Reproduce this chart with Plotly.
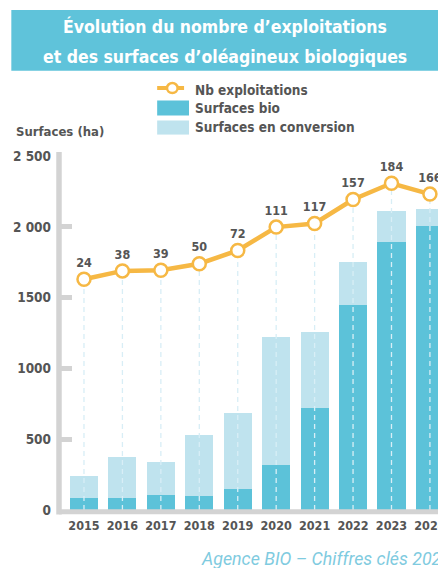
import plotly.graph_objects as go

years = [2015, 2016, 2017, 2018, 2019, 2020, 2021, 2022, 2023, 2024]
surfaces_bio = [88, 88, 106, 100, 150, 320, 720, 1445, 1890, 2008]
surfaces_conversion = [152, 287, 234, 430, 536, 903, 538, 308, 224, 120]
nb_exploitations = [24, 38, 39, 50, 72, 111, 117, 157, 184, 166]
y_tickvals = [0, 500, 1000, 1500, 2000, 2500]
y_ticktext = ["0", "500", "1000", "1500", "2 000", "2 500"]

FONT = "DejaVu Sans Condensed, Liberation Sans Narrow, Roboto, sans-serif"
GREY = "#555555"
AXIS = "#d3d3d3"
DARK = "#5cc2d9"
LIGHT = "#bfe3ee"
ORANGE = "#f6b844"

Y2_MIN, Y2_MAX = -360.5, 229.5

fig = go.Figure()
fig.add_trace(go.Bar(x=years, y=surfaces_bio, marker=dict(color=DARK, line=dict(width=0)),
                     width=0.73, showlegend=False, hoverinfo="skip"))
fig.add_trace(go.Bar(x=years, y=surfaces_conversion, marker=dict(color=LIGHT, line=dict(width=0)),
                     width=0.73, showlegend=False, hoverinfo="skip"))

# dashed guides from the bottom up to each point
gx, gy = [], []
for yr, v in zip(years, nb_exploitations):
    gx += [yr, yr, None]
    gy += [Y2_MIN, v, None]
fig.add_trace(go.Scatter(x=gx, y=gy, yaxis="y2", mode="lines",
                         line=dict(color="#d8eef6", width=1.3, dash="5px,4px"),
                         showlegend=False, hoverinfo="skip"))

fig.add_trace(go.Scatter(x=years, y=nb_exploitations, yaxis="y2", mode="lines+markers+text",
                         line=dict(color=ORANGE, width=4.5),
                         marker=dict(size=13, color="white", line=dict(color=ORANGE, width=2.5)),
                         text=["<b>%d</b>" % v for v in nb_exploitations], textposition="top center",
                         textfont=dict(family=FONT, size=12.5, color=GREY),
                         showlegend=False, hoverinfo="skip"))

shapes = [
    # title band
    dict(type="rect", xref="paper", yref="paper", x0=-0.1258, x1=1.0, y0=1.241, y1=1.4124,
         fillcolor="#5fc3da", line=dict(width=0), layer="below"),
    # axis lines
    dict(type="line", xref="paper", yref="paper", x0=0, x1=0, y0=-0.0125, y1=1.011,
         line=dict(color=AXIS, width=5.5)),
    dict(type="line", xref="paper", yref="paper", x0=0, x1=1.0, y0=-0.005, y1=-0.005,
         line=dict(color=AXIS, width=5)),
    # legend symbols
    dict(type="line", xref="paper", yref="paper", x0=0.259, x1=0.330, y0=1.1921, y1=1.1921,
         line=dict(color=ORANGE, width=4)),
    dict(type="circle", xref="paper", yref="paper", x0=0.285, x1=0.313, y0=1.1779, y1=1.2062,
         fillcolor="white", line=dict(color=ORANGE, width=2.5)),
    dict(type="rect", xref="paper", yref="paper", x0=0.259, x1=0.343, y0=1.1144, y1=1.1568,
         fillcolor=DARK, line=dict(width=0)),
    dict(type="rect", xref="paper", yref="paper", x0=0.259, x1=0.343, y0=1.0605, y1=1.1003,
         fillcolor=LIGHT, line=dict(width=0)),
]

annotations = [
    dict(text="<b>Évolution du nombre d’exploitations</b>", xref="paper", yref="paper",
         x=0.437, y=1.3672, xanchor="center", yanchor="middle", showarrow=False,
         font=dict(family=FONT, size=17.5, color="white")),
    dict(text="<b>et des surfaces d’oléagineux biologiques</b>", xref="paper", yref="paper",
         x=0.437, y=1.2797, xanchor="center", yanchor="middle", showarrow=False,
         font=dict(family=FONT, size=17.5, color="white")),
    dict(text="<b>Nb exploitations</b>", xref="paper", yref="paper", x=0.354, y=1.1864,
         xanchor="left", yanchor="middle", showarrow=False, font=dict(family=FONT, size=13.5, color=GREY)),
    dict(text="<b>Surfaces bio</b>", xref="paper", yref="paper", x=0.354, y=1.1342,
         xanchor="left", yanchor="middle", showarrow=False, font=dict(family=FONT, size=13.5, color=GREY)),
    dict(text="<b>Surfaces en conversion</b>", xref="paper", yref="paper", x=0.354, y=1.0825,
         xanchor="left", yanchor="middle", showarrow=False, font=dict(family=FONT, size=13.5, color=GREY)),
    dict(text="<b>Surfaces (ha)</b>", xref="paper", yref="paper", x=-0.1176, y=1.0692,
         xanchor="left", yanchor="middle", showarrow=False, font=dict(family=FONT, size=13, color=GREY)),
    dict(text="<i>Agence BIO – Chiffres clés 2024</i>", xref="paper", yref="paper", x=0.369, y=-0.138,
         xanchor="left", yanchor="middle", showarrow=False,
         font=dict(family="Roboto, sans-serif", size=17.8, color="#7fcbe0")),
]

fig.update_layout(
    width=438, height=568,
    margin=dict(l=58.7, r=0, t=156, b=58, pad=0),
    paper_bgcolor="white", plot_bgcolor="white",
    barmode="stack", bargap=0,
    showlegend=False,
    font=dict(family=FONT, color=GREY),
    xaxis=dict(range=[2015 - 0.65, 2024 + 0.21], tickvals=years,
               ticktext=["<b>%d</b>" % y for y in years],
               showgrid=False, zeroline=False, showline=False, ticks="", automargin=False,
               ticklabeloverflow="allow", ticklabelstandoff=6,
               tickfont=dict(family=FONT, size=12.5, color=GREY)),
    yaxis=dict(range=[0, 2500], tickvals=y_tickvals, ticktext=["<b>%s</b>" % t for t in y_ticktext],
               showgrid=False, zeroline=False, showline=False, automargin=False,
               ticks="inside", ticklen=13, tickwidth=5, tickcolor=AXIS, ticklabelstandoff=7,
               tickfont=dict(family=FONT, size=13.5, color=GREY)),
    yaxis2=dict(range=[Y2_MIN, Y2_MAX], overlaying="y", side="right", visible=False),
    shapes=shapes,
    annotations=annotations,
)

fig.write_html("out.html", config={"displayModeBar": False},
               post_script="document.body.style.margin='0';")
